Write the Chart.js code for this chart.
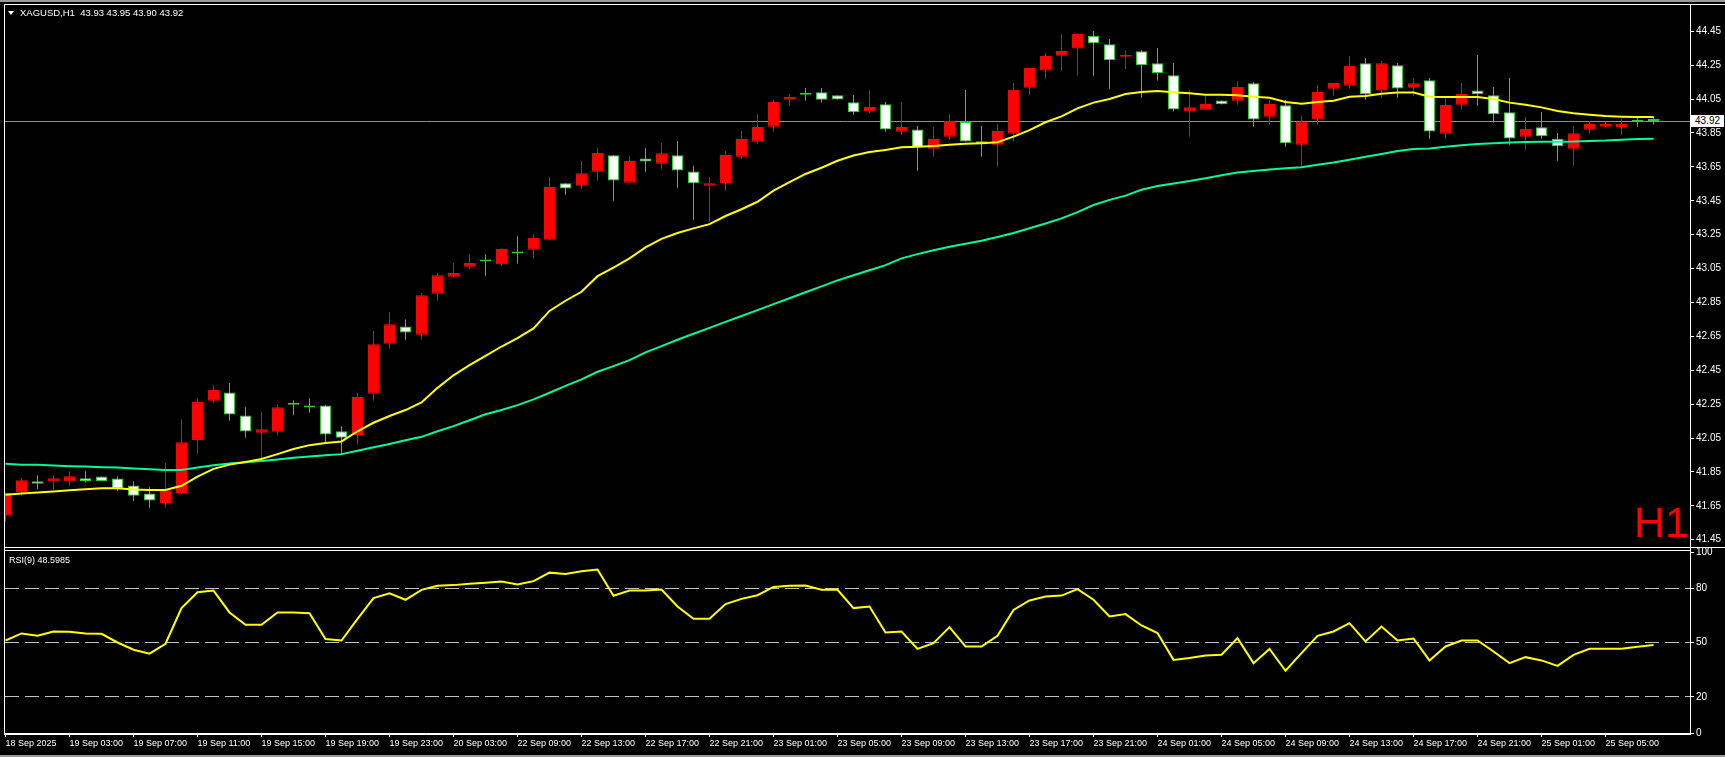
<!DOCTYPE html>
<html>
<head>
<meta charset="utf-8">
<script src="https://cdn.jsdelivr.net/npm/chart.js@4.4.1/dist/chart.umd.min.js"></script>
<style>
html,body{margin:0;padding:0;background:#000;width:1725px;height:757px;overflow:hidden;}
#wrap{position:relative;width:1725px;height:757px;background:#000;}
canvas{position:absolute;left:0;}
#c1{top:0;}
#c2{top:540px;}
.ln{position:absolute;background:#fff;z-index:5;}
.txt{position:absolute;color:#fff;font-family:"Liberation Sans",Arial,sans-serif;font-size:10px;line-height:12px;white-space:pre;z-index:6;}
</style>
</head>
<body>
<div id="wrap">
<canvas id="c1" width="1725" height="549"></canvas>
<canvas id="c2" width="1725" height="217"></canvas>

<div class="ln" style="left:0;top:0;width:1725px;height:2px;background:#9a9a9a"></div>
<div class="ln" style="left:0;top:755px;width:1725px;height:2px;background:#9a9a9a"></div>
<div class="ln" style="left:4px;top:4px;width:1721px;height:1px"></div>
<div class="ln" style="left:4px;top:4px;width:1px;height:731px"></div>
<div class="ln" style="left:4px;top:547px;width:1721px;height:1px"></div>
<div class="ln" style="left:4px;top:550px;width:1687px;height:1px"></div>
<div class="ln" style="left:4px;top:734px;width:1687px;height:1px"></div>
<div class="ln" style="left:1690px;top:4px;width:1px;height:731px"></div>

<div style="position:absolute;left:8px;top:11px;width:0;height:0;border-left:3px solid transparent;border-right:3px solid transparent;border-top:4px solid #fff;z-index:6"></div>
<div class="txt" style="left:20px;top:7px;font-size:9.5px">XAGUSD,H1  43.93 43.95 43.90 43.92</div>
<div class="txt" style="left:9px;top:554px;font-size:9px">RSI(9) 48.5985</div>
<div style="position:absolute;left:1634px;top:501px;color:#ff0000;font-family:'Liberation Sans',Arial,sans-serif;font-size:43px;line-height:43px;z-index:6">H1</div>
<div id="tag" class="txt" style="left:1691px;width:33px;height:12px;background:#fff;color:#000;text-align:center"></div>
</div>

<script>
// ---------- DATA ----------
const dateLabels = ['18 Sep 2025','19 Sep 03:00','19 Sep 07:00','19 Sep 11:00','19 Sep 15:00','19 Sep 19:00','19 Sep 23:00','20 Sep 03:00','22 Sep 09:00','22 Sep 13:00','22 Sep 17:00','22 Sep 21:00','23 Sep 01:00','23 Sep 05:00','23 Sep 09:00','23 Sep 13:00','23 Sep 17:00','23 Sep 21:00','24 Sep 01:00','24 Sep 05:00','24 Sep 09:00','24 Sep 13:00','24 Sep 17:00','24 Sep 21:00','25 Sep 01:00','25 Sep 05:00'];
const dateTickBars = [0,4,8,12,16,20,24,28,32,36,40,44,48,52,56,60,64,68,72,76,80,84,88,92,96,100];
const priceTicks = [41.45,41.65,41.85,42.05,42.25,42.45,42.65,42.85,43.05,43.25,43.45,43.65,43.85,44.05,44.25,44.45];
const rsiTicks = [0,20,50,80,100];
const rsiLevels = [20,50,80];

const open = [41.591,41.730,41.795,41.795,41.795,41.813,41.823,41.811,41.770,41.723,
41.667,41.726,42.039,42.270,42.319,42.183,42.081,42.087,42.247,42.230,
42.242,42.090,42.068,42.311,42.606,42.708,42.659,42.901,43.001,43.061,
43.092,43.076,43.151,43.161,43.220,43.553,43.539,43.621,43.718,43.556,
43.700,43.669,43.718,43.623,43.539,43.554,43.710,43.798,43.887,44.046,
44.076,44.090,44.072,44.031,43.976,44.019,43.857,43.871,43.757,43.828,
43.915,43.789,43.781,43.846,44.117,44.218,44.306,44.348,44.422,44.373,
44.300,44.332,44.261,44.190,43.976,43.987,44.042,44.040,44.143,43.946,
44.013,43.781,43.930,44.111,44.129,44.261,44.100,44.249,44.117,44.161,
43.846,44.017,44.101,44.072,43.972,43.828,43.883,43.816,43.757,43.869,
43.887,43.885,43.914,43.930];
const high = [41.730,41.815,41.831,41.831,41.854,41.854,41.823,41.825,41.795,41.760,
41.902,42.161,42.285,42.362,42.374,42.232,42.203,42.250,42.273,42.285,
42.245,42.120,42.315,42.681,42.793,42.750,42.905,43.023,43.082,43.135,
43.135,43.169,43.241,43.251,43.590,43.555,43.684,43.761,43.720,43.714,
43.761,43.791,43.802,43.657,43.590,43.743,43.861,43.962,44.044,44.080,
44.115,44.115,44.072,44.074,44.103,44.032,44.032,43.891,43.885,43.962,
44.103,43.891,43.903,44.145,44.233,44.322,44.434,44.438,44.452,44.404,
44.339,44.339,44.351,44.263,44.104,44.074,44.042,44.153,44.151,44.044,
44.044,43.950,44.133,44.145,44.304,44.292,44.275,44.263,44.174,44.174,
44.058,44.145,44.310,44.121,44.174,43.944,43.974,43.850,43.891,43.920,
43.916,43.932,43.942,43.950];
const low = [41.561,41.711,41.748,41.746,41.766,41.789,41.797,41.738,41.679,41.638,
41.638,41.719,41.957,42.258,42.152,42.051,41.931,42.067,42.185,42.199,
42.022,41.955,42.010,42.270,42.577,42.630,42.630,42.860,43.000,43.049,
43.007,43.067,43.078,43.108,43.218,43.486,43.519,43.568,43.450,43.554,
43.621,43.639,43.527,43.336,43.326,43.509,43.698,43.787,43.857,44.011,
44.040,44.029,44.048,43.958,43.968,43.857,43.838,43.627,43.710,43.810,
43.800,43.710,43.651,43.799,44.074,44.170,44.216,44.188,44.188,44.111,
44.227,44.058,44.159,43.976,43.828,43.987,44.019,44.017,43.887,43.899,
43.769,43.651,43.899,44.070,44.111,44.046,44.058,44.058,44.070,43.816,
43.816,43.987,44.011,43.911,43.781,43.751,43.816,43.686,43.657,43.846,
43.887,43.838,43.887,43.900];
const close = [41.726,41.801,41.780,41.813,41.825,41.797,41.797,41.752,41.709,41.681,
41.742,42.025,42.262,42.333,42.189,42.089,42.102,42.232,42.247,42.230,
42.071,42.051,42.292,42.604,42.722,42.673,42.893,43.011,43.023,43.082,
43.092,43.165,43.139,43.230,43.531,43.523,43.613,43.732,43.570,43.684,
43.682,43.730,43.629,43.553,43.553,43.720,43.814,43.885,44.033,44.062,
44.076,44.046,44.048,43.972,44.003,43.871,43.885,43.765,43.814,43.920,
43.800,43.789,43.861,44.104,44.233,44.304,44.334,44.434,44.379,44.279,
44.312,44.249,44.204,43.989,44.001,44.021,44.019,44.121,43.930,44.021,
43.789,43.917,44.092,44.145,44.245,44.078,44.261,44.113,44.143,43.859,
44.015,44.080,44.078,43.960,43.818,43.873,43.830,43.771,43.848,43.903,
43.903,43.903,43.914,43.920];

const fastMA = [41.715,41.722,41.728,41.735,41.742,41.748,41.753,41.754,41.746,41.744,
41.744,41.768,41.822,41.868,41.893,41.909,41.926,41.955,41.985,42.008,
42.020,42.030,42.090,42.140,42.180,42.215,42.260,42.346,42.420,42.480,
42.535,42.590,42.640,42.697,42.800,42.860,42.913,43.005,43.055,43.110,
43.175,43.225,43.260,43.287,43.312,43.360,43.400,43.444,43.510,43.560,
43.608,43.645,43.686,43.717,43.737,43.750,43.765,43.769,43.773,43.780,
43.786,43.790,43.795,43.828,43.867,43.913,43.948,43.995,44.029,44.050,
44.080,44.092,44.098,44.090,44.084,44.076,44.076,44.072,44.064,44.058,
44.033,44.023,44.033,44.040,44.064,44.068,44.082,44.088,44.088,44.064,
44.062,44.062,44.062,44.050,44.029,44.017,44.001,43.980,43.966,43.958,
43.950,43.946,43.944,43.944];
const slowMA = [41.898,41.893,41.892,41.888,41.884,41.882,41.878,41.876,41.870,41.866,
41.862,41.862,41.876,41.890,41.900,41.907,41.915,41.923,41.933,41.941,
41.949,41.955,41.975,41.995,42.015,42.037,42.057,42.090,42.120,42.155,
42.190,42.215,42.244,42.278,42.317,42.358,42.396,42.441,42.474,42.510,
42.555,42.592,42.630,42.665,42.700,42.735,42.770,42.805,42.840,42.875,
42.910,42.945,42.980,43.010,43.040,43.070,43.110,43.135,43.158,43.178,
43.196,43.214,43.236,43.260,43.288,43.316,43.346,43.383,43.425,43.455,
43.480,43.515,43.537,43.552,43.566,43.583,43.600,43.616,43.625,43.635,
43.642,43.648,43.663,43.676,43.692,43.710,43.726,43.743,43.755,43.759,
43.769,43.777,43.785,43.789,43.793,43.797,43.798,43.798,43.799,43.803,
43.805,43.810,43.814,43.816];
const rsi = [51.1,55.0,53.7,56.1,56.0,55.0,54.8,50.0,46.0,43.8,
49.3,69.0,77.8,78.7,66.6,59.8,59.8,66.6,66.6,66.2,
51.9,51.1,63.1,74.5,77.2,73.6,79.1,81.3,81.7,82.4,
83.0,83.7,82.0,83.9,88.6,87.9,89.4,90.3,75.8,78.7,
78.7,79.3,69.9,63.1,63.1,71.2,74.1,76.1,80.7,81.3,
81.5,79.1,79.1,69.0,69.9,55.5,56.1,46.5,49.6,58.5,
47.8,47.8,53.7,68.0,73.2,75.4,75.9,79.5,73.6,64.4,
65.7,59.4,55.2,40.4,41.4,42.8,43.2,52.4,38.6,46.4,
34.4,44.1,53.7,56.1,60.7,50.6,58.8,51.1,52.2,40.1,
47.8,51.1,51.1,45.0,38.6,41.9,40.1,37.1,43.2,46.5,
46.5,46.5,47.6,48.6];

// ---------- STYLE ----------
const RED = '#ff0000', GREEN = '#32cd32', WHITE = '#ffffff', YELLOW = '#ffff00', CYAN = '#00fa9a';
const X_MIN = -0.03125, X_MAX = 105.28125;
Chart.defaults.font.family = '"Liberation Sans", Arial, sans-serif';
Chart.defaults.font.size = 10;
Chart.defaults.color = '#ffffff';

const bars = open.map((_, i) => i);
const isUp = bars.map(i => close[i] > open[i]);
const wickData = bars.map(i => ({x: i, y: [low[i], high[i]]}));
const bodyData = bars.map(i => ({x: i, y: [Math.min(open[i], close[i]), Math.max(open[i], close[i])]}));
const wickColor = bars.map(i => isUp[i] ? RED : GREEN);
const bodyFill = bars.map(i => isUp[i] ? RED : (close[i] === open[i] ? GREEN : WHITE));
const bodyBorder = bars.map(i => isUp[i] ? RED : GREEN);

const priceLine = {
  id: 'priceLine',
  beforeDatasetsDraw(chart) {
    const {ctx, chartArea, scales} = chart;
    const y = Math.floor(scales.y.getPixelForValue(close[close.length - 1])) + 0.5;
    ctx.save();
    ctx.strokeStyle = '#8f8f8f';
    ctx.lineWidth = 1;
    ctx.beginPath();
    ctx.moveTo(chartArea.left, y);
    ctx.lineTo(chartArea.right, y);
    ctx.stroke();
    ctx.restore();
  }
};

const common = {
  responsive: false, animation: false, devicePixelRatio: 1, events: [],
  plugins: {legend: {display: false}, tooltip: {enabled: false}, title: {display: false}}
};

const main = new Chart(document.getElementById('c1'), {
  type: 'bar',
  data: {datasets: [
    {type: 'bar', data: wickData, backgroundColor: wickColor, borderWidth: 0, barThickness: 1, grouped: false, inflateAmount: 0, order: 4},
    {type: 'bar', data: bodyData, backgroundColor: bodyFill, borderColor: bodyBorder, borderWidth: 1, borderSkipped: false, barThickness: 11, grouped: false, inflateAmount: 0, minBarLength: 2, order: 3},
    {type: 'line', data: bars.map(i => ({x: i, y: slowMA[i]})), borderColor: CYAN, borderWidth: 2, pointRadius: 0, tension: 0, order: 2},
    {type: 'line', data: bars.map(i => ({x: i, y: fastMA[i]})), borderColor: YELLOW, borderWidth: 2, pointRadius: 0, tension: 0, order: 1}
  ]},
  options: Object.assign({}, common, {
    layout: {padding: {left: 5, top: 5, right: 0, bottom: 2}, autoPadding: false},
    scales: {
      x: {type: 'linear', display: false, min: X_MIN, max: X_MAX, offset: false},
      y: {
        position: 'right', min: 41.407, max: 44.605,
        afterBuildTicks: s => { s.ticks = priceTicks.map(v => ({value: v})); },
        afterFit: s => { s.width = 35; s.paddingTop = 0; s.paddingBottom = 0; },
        ticks: {color: '#fff', padding: 2, autoSkip: false, callback: v => Number(v).toFixed(2)},
        grid: {drawOnChartArea: false, tickLength: 4, tickColor: '#fff'},
        border: {display: true, color: '#fff'}
      }
    }
  }),
  plugins: [priceLine]
});

const rsiChart = new Chart(document.getElementById('c2'), {
  type: 'line',
  data: {datasets: [
    {data: bars.map(i => ({x: i, y: rsi[i]})), borderColor: YELLOW, borderWidth: 2, pointRadius: 0, tension: 0}
  ]},
  options: Object.assign({}, common, {
    layout: {padding: {left: 5, top: 12, right: 0, bottom: 0}, autoPadding: false},
    scales: {
      x: {
        type: 'linear', min: X_MIN, max: X_MAX, offset: false,
        afterBuildTicks: s => { s.ticks = dateTickBars.map(v => ({value: v})); },
        afterFit: s => { s.height = 24; s.paddingLeft = 0; s.paddingRight = 0; },
        ticks: {color: '#fff', align: 'start', autoSkip: false, maxRotation: 0, minRotation: 0, padding: 1,
                font: {size: 9}, callback: (v, i) => dateLabels[i]},
        grid: {drawOnChartArea: false, tickLength: 4, tickColor: '#fff'},
        border: {display: true, color: '#fff'}
      },
      y: {
        position: 'right', min: 0, max: 100,
        afterBuildTicks: s => { s.ticks = rsiTicks.map(v => ({value: v})); },
        afterFit: s => { s.width = 35; s.paddingTop = 0; s.paddingBottom = 0; },
        ticks: {color: '#fff', padding: 2, autoSkip: false},
        grid: {
          color: ctx => (ctx.tick && rsiLevels.includes(ctx.tick.value)) ? '#c0c0c0' : 'rgba(0,0,0,0)',
          tickLength: 4, tickColor: '#fff'
        },
        border: {display: true, color: '#fff', dash: [14, 6]}
      }
    }
  })
});

const tag = document.getElementById('tag');
const lastClose = close[close.length - 1];
tag.textContent = lastClose.toFixed(2);
tag.style.top = (Math.round(main.scales.y.getPixelForValue(lastClose)) - 6) + 'px';
</script>
</body>
</html>
